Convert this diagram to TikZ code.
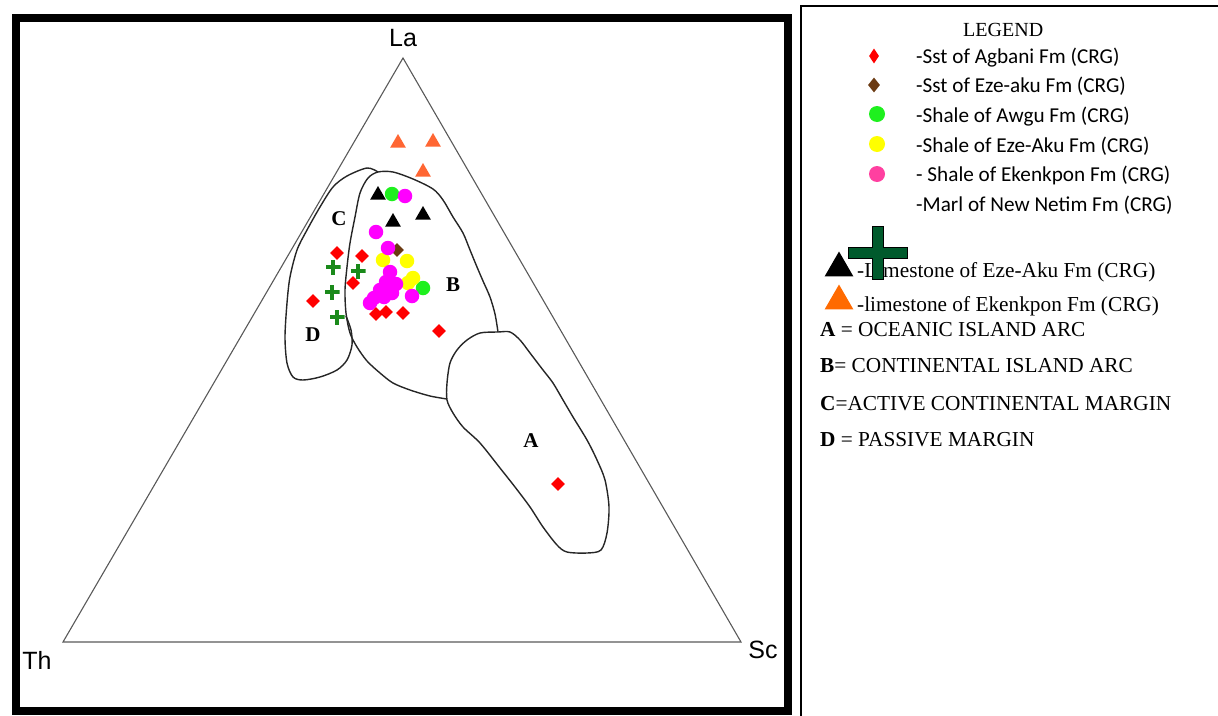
\documentclass[tikz,border=0pt]{standalone}
\usepackage{fontspec}
\setmainfont{Liberation Serif}
\newfontfamily\axisfont{Liberation Sans}
\newfontfamily\legfont{Carlito}
\usetikzlibrary{shapes.geometric}
\definecolor{sstred}{HTML}{FF0000}
\definecolor{sstbrown}{HTML}{6B3A12}
\definecolor{awgugreen}{HTML}{1EF01E}
\definecolor{ezeyellow}{HTML}{FFFF00}
\definecolor{ekenmag}{HTML}{FF00FF}
\definecolor{ekenpink}{HTML}{FF40A0}
\definecolor{marlgreen}{HTML}{1A8A1A}
\definecolor{crossgreen}{HTML}{005A2C}
\definecolor{limeorange}{HTML}{FF6633}
\definecolor{legorange}{HTML}{FF6A00}

\begin{document}
\begin{tikzpicture}[
        x=1pt,
        y=-1pt,
        field/.style={draw=black!85, line width=1.4pt},
        axis/.style={draw=black!65, line width=1.1pt},
        corner/.style={font=\axisfont\fontsize{25}{25}\selectfont, inner sep=0pt},
        fieldlabel/.style={font=\fontsize{21}{21}\selectfont\bfseries, inner sep=0pt},
        legtext/.style={font=\legfont\fontsize{21.2}{21}\selectfont, anchor=base west, inner sep=0pt},
        keytext/.style={font=\fontsize{21.3}{21}\selectfont, anchor=base west, inner sep=0pt},
        agbani/.style={diamond, fill=sstred, inner sep=0pt, minimum width=14pt, minimum height=14pt},
        ezeaku/.style={agbani, fill=sstbrown},
        awgu/.style={circle, fill=awgugreen, inner sep=0pt, minimum size=14.5pt},
        shaleeze/.style={awgu, fill=ezeyellow},
        ekenkpon/.style={awgu, fill=ekenmag},
        limeeze/.style={regular polygon, regular polygon sides=3, fill=black, inner sep=0pt, minimum size=18pt},
        limeeken/.style={limeeze, fill=limeorange},
        marl/.style={rectangle, inner sep=0pt, minimum size=15pt, path picture={
            \fill[marlgreen] ([xshift=-2.4pt]path picture bounding box.north) rectangle ([xshift=2.4pt]path picture bounding box.south);
            \fill[marlgreen] ([yshift=2.4pt]path picture bounding box.west) rectangle ([yshift=-2.4pt]path picture bounding box.east);
        }}
    ]
    \useasboundingbox (0,0) rectangle (1218,715);

    % plot frame and legend frame
    \draw[line width=8pt] (16,18) rectangle (788,711);
    \draw[line width=2pt] (801,716) -- (801,6) -- (1218,6);

    % ternary triangle
    \coordinate (la) at (403,58);
    \coordinate (th) at (63,642);
    \coordinate (sc) at (741,642);
    \draw[axis] (la) -- (sc) -- (th) -- cycle;
    \node[corner] (lalab) at (403,38) {La};
    \node[corner] (thlab) at (37,660) {Th};
    \node[corner] (sclab) at (763,650) {Sc};

    % tectonic fields
    \draw[field] plot[smooth] coordinates {
            (498,332) (495,314) (490,297) (483,281) (477,267) (470,250) (463,233)
            (453,217) (443,200) (433,189) (413,179) (393,172) (378,172) (368,178)
            (360,193) (355,217) (350,243) (347,267) (345,290) (346,313) (350,333)
            (357,347) (367,361) (380,373) (393,383) (410,390) (430,396) (447,399)
        };
    \draw[field] plot[smooth] coordinates {
            (378,172) (367,168) (347,176) (333,187) (320,207) (307,230) (297,250)
            (290,277) (287,303) (285,337) (287,363) (293,377) (303,380) (320,377)
            (337,370) (347,360) (352,345) (351,330) (346,316)
        };
    \draw[field] plot[smooth cycle] coordinates {
            (498,332) (510,332) (520,340) (530,353) (543,370) (553,383) (563,400)
            (573,417) (587,440) (597,460) (605,480) (609,507) (607,533) (601,550)
            (587,553) (567,552) (557,545) (543,527) (530,507) (515,487) (500,468)
            (480,443) (463,427) (453,413) (447,400) (447,383) (450,363) (457,350)
            (467,340) (480,333)
        };
    \node[fieldlabel] (fa) at (531,441) {A};
    \node[fieldlabel] (fb) at (453,285) {B};
    \node[fieldlabel] (fc) at (339,219) {C};
    \node[fieldlabel] (fd) at (313,335) {D};

    % samples
    \node[limeeken] (ek1) at (398,143) {};
    \node[limeeken] (ek2) at (433,142) {};
    \node[limeeken] (ek3) at (423,172) {};
    \node[limeeze] (lz1) at (378,195) {};
    \node[limeeze] (lz2) at (393,222) {};
    \node[limeeze] (lz3) at (423,215) {};
    \node[marl] (ml1) at (333,267) {};
    \node[marl] (ml2) at (358,271) {};
    \node[marl] (ml3) at (332,292) {};
    \node[marl] (ml4) at (337,317) {};
    \node[ezeaku] (sz1) at (397,250) {};
    \node[awgu] (aw1) at (392,194) {};
    \node[awgu] (aw2) at (423,288) {};
    \node[shaleeze] (sh1) at (383,260) {};
    \node[shaleeze] (sh2) at (407,261) {};
    \node[shaleeze] (sh3) at (413,278) {};
    \node[shaleeze] (sh4) at (408,283) {};
    \node[ekenkpon] (sk1) at (405,196) {};
    \node[ekenkpon] (sk2) at (376,232) {};
    \node[ekenkpon] (sk3) at (388,248) {};
    \node[ekenkpon] (sk4) at (390,272) {};
    \node[ekenkpon] (sk5) at (386,282) {};
    \node[ekenkpon] (sk6) at (396,284) {};
    \node[ekenkpon] (sk7) at (380,290) {};
    \node[ekenkpon] (sk8) at (392,293) {};
    \node[ekenkpon] (sk9) at (384,297) {};
    \node[ekenkpon] (sk10) at (374,298) {};
    \node[ekenkpon] (sk11) at (370,303) {};
    \node[ekenkpon] (sk12) at (412,296) {};
    \node[agbani] (ag1) at (337,253) {};
    \node[agbani] (ag2) at (362,256) {};
    \node[agbani] (ag3) at (353,283) {};
    \node[agbani] (ag4) at (313,301) {};
    \node[agbani] (ag5) at (376,314) {};
    \node[agbani] (ag6) at (386,312) {};
    \node[agbani] (ag7) at (403,313) {};
    \node[agbani] (ag8) at (439,331) {};
    \node[agbani] (ag9) at (558,484) {};

    % legend
    \node[font=\fontsize{20}{20}\selectfont, anchor=base west, inner sep=0pt] (legtitle) at (963,36) {LEGEND};
    \node[agbani, minimum width=10pt, minimum height=15pt] (lagb) at (874,56) {};
    \node[ezeaku, minimum width=12pt, minimum height=15pt] (leze) at (874,85) {};
    \node[awgu, minimum size=16pt] (lawgu) at (877,114) {};
    \node[shaleeze, minimum size=16pt] (lshale) at (877,144) {};
    \node[ekenkpon, fill=ekenpink, minimum size=16pt] (leken) at (877,174) {};
    \node[legtext] (tagb) at (916,63) {-Sst of Agbani Fm (CRG)};
    \node[legtext] (teze) at (916,92.7) {-Sst of Eze-aku Fm (CRG)};
    \node[legtext] (tawgu) at (916,122.4) {-Shale of Awgu Fm (CRG)};
    \node[legtext] (tshale) at (916,152.1) {-Shale of Eze-Aku Fm (CRG)};
    \node[legtext] (teken) at (916,181.8) {- Shale of Ekenkpon Fm (CRG)};
    \node[legtext] (tmarl) at (916,211.5) {-Marl of New Netim Fm (CRG)};
    \node[limeeze, minimum size=33pt] (llime) at (839,268) {};
    \node[limeeken, fill=legorange, minimum size=33pt] (llimek) at (839,301) {};
    \node[keytext] (tlime) at (857,277.3) {-Limestone of Eze-Aku Fm (CRG)};
    \node[keytext] (tlimek) at (857,311.7) {-limestone of Ekenkpon Fm (CRG)};
    \node[keytext] (ka) at (820,336.7) {\textbf{A} = OCEANIC ISLAND ARC};
    \node[keytext] (kb) at (820,372.7) {\textbf{B}= CONTINENTAL ISLAND ARC};
    \node[keytext] (kc) at (820,410) {\textbf{C}=ACTIVE CONTINENTAL MARGIN};
    \node[keytext] (kd) at (820,446.7) {\textbf{D} = PASSIVE MARGIN};
    \coordinate (lmarl) at (877.5,252.5);
    \filldraw[fill=crossgreen, draw=black, line width=1pt] ([shift={(-5.5,-26.5)}]lmarl)
        -- ++(11,0) -- ++(0,21) -- ++(24,0) -- ++(0,11) -- ++(-24,0) -- ++(0,21)
        -- ++(-11,0) -- ++(0,-21) -- ++(-24,0) -- ++(0,-11) -- ++(24,0) -- cycle;
\end{tikzpicture}
\end{document}
